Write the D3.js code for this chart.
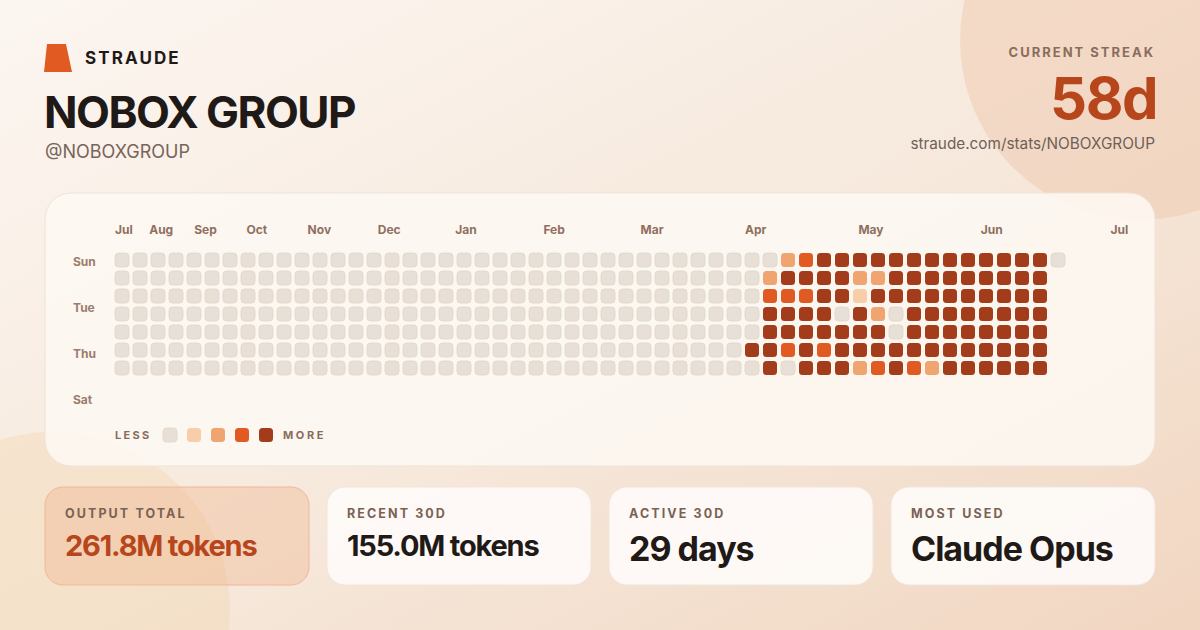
<!DOCTYPE html>
<html>
<head>
<meta charset="utf-8">
<script src="https://cdn.jsdelivr.net/npm/d3@7/dist/d3.min.js"></script>
<style>
  html, body { margin: 0; padding: 0; background: #fbf4ee; }
  svg { display: block; font-family: Inter, "Noto Sans", sans-serif; }
</style>
</head>
<body>
<svg id="chart" width="1200" height="630"></svg>
<script>
// ---------- data ----------
const userName = "NOBOX GROUP";
const userHandle = "@NOBOXGROUP";
const brand = "STRAUDE";
const streakLabel = "CURRENT STREAK";
const streakValue = "58d";
const profileUrl = "straude.com/stats/NOBOXGROUP";

// one string per week (Sun..Sat), activity level 0-4
const weeks = [
  "0000000","0000000","0000000","0000000","0000000","0000000","0000000","0000000","0000000","0000000",
  "0000000","0000000","0000000","0000000","0000000","0000000","0000000","0000000","0000000","0000000",
  "0000000","0000000","0000000","0000000","0000000","0000000","0000000","0000000","0000000","0000000",
  "0000000","0000000","0000000","0000000","0000000",
  "0000040","0234444","2434430","3434444","4444434","4440444","4214442","4242443","4440044","4444443",
  "4444442","4444444","4444444","4444444","4444444","4444444","4444444",
  "0"
];
const monthLabels = ["Jul","Aug","Sep","Oct","Nov","Dec","Jan","Feb","Mar","Apr","May","Jun","Jul"];
const monthLabelWeek = [0, 1.9, 4.4, 7.3, 10.7, 14.6, 18.9, 23.8, 29.2, 35, 41.3, 48.1, 55.3];
const dayLabels = ["Sun","Tue","Thu","Sat"];
const dayLabelIndex = [0, 2, 4, 6];
const legendLevels = [0, 1, 2, 3, 4];

const statLabels = ["OUTPUT TOTAL","RECENT 30D","ACTIVE 30D","MOST USED"];
const statValues = ["261.8M tokens","155.0M tokens","29 days","Claude Opus"];

// ---------- styles ----------
const levelColor = ["#e8e0d6","#f7cdaa","#f0a46f","#e05a22","#a33c1a"];
const svg = d3.select("#chart");

const defs = svg.append("defs");
const bg = defs.append("linearGradient").attr("id","bg")
  .attr("x1","0").attr("y1","0").attr("x2","1").attr("y2","1");
bg.append("stop").attr("offset","0%").attr("stop-color","#fcf6f1");
bg.append("stop").attr("offset","55%").attr("stop-color","#f6e8db");
bg.append("stop").attr("offset","100%").attr("stop-color","#f1d6c1");

svg.append("rect").attr("width",1200).attr("height",630).attr("fill","url(#bg)");
svg.append("circle").attr("cx",1140).attr("cy",40).attr("r",180)
  .attr("fill","#eec6a8").attr("opacity",0.45);
svg.append("circle").attr("cx",52).attr("cy",610).attr("r",178)
  .attr("fill","#f3d6b0").attr("opacity",0.4);

// ---------- header ----------
svg.append("path").attr("d","M47,44 L66,44 L72,72 L44,72 Z").attr("fill","#e05a22");
svg.append("text").attr("x",85).attr("y",64).text(brand)
  .attr("font-size",17).attr("font-weight",700).attr("letter-spacing",2.1).attr("fill","#1f1a17");
svg.append("text").attr("x",44).attr("y",128).text(userName)
  .attr("font-size",44).attr("font-weight",700).attr("letter-spacing",-1.5).attr("fill","#1f1a17");
svg.append("text").attr("x",45).attr("y",158).text(userHandle)
  .attr("font-size",18).attr("font-weight",400).attr("fill","#786459");

svg.append("text").attr("x",1155).attr("y",57).attr("text-anchor","end").text(streakLabel)
  .attr("font-size",13).attr("font-weight",700).attr("letter-spacing",2.0).attr("fill","#8a6c5d");
svg.append("text").attr("x",1157).attr("y",119).attr("text-anchor","end").text(streakValue)
  .attr("font-size",58).attr("font-weight",700).attr("letter-spacing",-1.5).attr("fill","#b8461d");
svg.append("text").attr("x",1155).attr("y",149).attr("text-anchor","end").text(profileUrl)
  .attr("font-size",15.3).attr("font-weight",400).attr("fill","#6e6058");

// ---------- heatmap panel ----------
svg.append("rect").attr("x",45).attr("y",193).attr("width",1110).attr("height",273).attr("rx",26)
  .attr("fill","#fdf8f3").attr("fill-opacity",0.88).attr("stroke","#efe3d8").attr("stroke-width",1);

const cell = 14;
const x = d3.scaleLinear().domain([0, 1]).range([115, 133]);
const y = d3.scaleLinear().domain([0, 1]).range([253, 271]);
const yLabel = d3.scaleLinear().domain([0, 1]).range([261.5, 284.5]);

const cells = [];
weeks.forEach((w, wi) => w.split("").forEach((ch, di) => cells.push({ week: wi, day: di, level: +ch })));

svg.append("g").selectAll("rect").data(cells).join("rect")
  .attr("x", d => x(d.week)).attr("y", d => y(d.day))
  .attr("width", cell).attr("height", cell).attr("rx", 3.5)
  .attr("fill", d => levelColor[d.level])
  .attr("stroke", d => d.level === 0 ? "#e0d6ca" : "none").attr("stroke-width", 0.8);

svg.append("g").selectAll("text").data(monthLabels).join("text")
  .attr("x", (d, i) => x(monthLabelWeek[i])).attr("y", 234)
  .text(d => d).attr("font-size", 12).attr("font-weight", 700).attr("fill", "#8f7060");

svg.append("g").selectAll("text").data(dayLabels).join("text")
  .attr("x", 73).attr("y", (d, i) => yLabel(dayLabelIndex[i])).attr("dy", "0.35em")
  .text(d => d).attr("font-size", 12).attr("font-weight", 700).attr("fill", "#9a7d6c");

// legend
const lx = d3.scaleLinear().domain([0, 1]).range([163, 187]);
svg.append("text").attr("x",115).attr("y",439).text("LESS")
  .attr("font-size",11).attr("font-weight",700).attr("letter-spacing",2.3).attr("fill","#8a6c5d");
svg.append("g").selectAll("rect").data(legendLevels).join("rect")
  .attr("x", d => lx(d)).attr("y", 428).attr("width", cell).attr("height", cell).attr("rx", 3.5)
  .attr("fill", d => levelColor[d])
  .attr("stroke", d => d === 0 ? "#e0d6ca" : "none").attr("stroke-width", 0.8);
svg.append("text").attr("x",283).attr("y",439).text("MORE")
  .attr("font-size",11).attr("font-weight",700).attr("letter-spacing",2.6).attr("fill","#8a6c5d");

// ---------- stat cards ----------
const cx = d3.scaleLinear().domain([0, 1]).range([45, 327]);
const cards = svg.append("g").selectAll("g").data(statLabels).join("g")
  .attr("transform", (d, i) => `translate(${cx(i)},487)`);
cards.append("rect").attr("width", 264).attr("height", 98).attr("rx", 18)
  .attr("fill", (d, i) => i === 0 ? "#f0b48c" : "#fefbf8")
  .attr("fill-opacity", (d, i) => i === 0 ? 0.38 : 0.92)
  .attr("stroke", (d, i) => i === 0 ? "#efb896" : "#f1e6dc").attr("stroke-width", 1);
cards.append("text").attr("x", 20).attr("y", 31).text(d => d)
  .attr("font-size", 12.5).attr("font-weight", 700).attr("letter-spacing", 2.1).attr("fill", "#7a6254");
cards.append("text").attr("x", 20)
  .attr("y", (d, i) => statValues[i].length > 12 ? 69 : 74)
  .text((d, i) => statValues[i])
  .attr("font-size", (d, i) => statValues[i].length > 12 ? 29 : 34)
  .attr("font-weight", 700)
  .attr("letter-spacing", (d, i) => statValues[i].length > 12 ? -1.2 : -1.0)
  .attr("fill", (d, i) => i === 0 ? "#b8461d" : "#1f1a17");
</script>
</body>
</html>
